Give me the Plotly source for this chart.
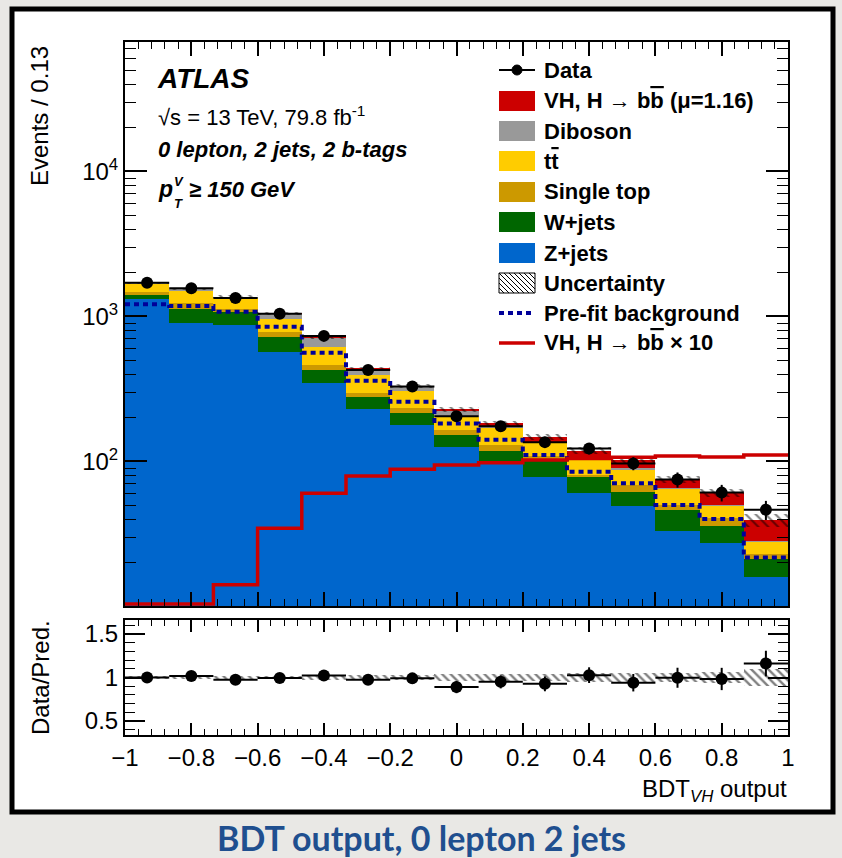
import numpy as np
import plotly.graph_objects as go

# ---------------- data ----------------
bin_edges = np.linspace(-1.0, 1.0, 16)          # 15 bins of width 0.133

z_jets     = [1314, 898, 874, 566, 346, 229, 178, 126, 100, 78, 61, 49, 33, 27.5, 16]
w_jets     = [93, 223, 205, 153, 82, 51, 37, 26, 18, 23, 17, 13, 13, 8.4, 5.4]
single_top = [76, 112, 42, 67, 35, 18, 18, 13, 12, 8, 3, 7, 4, 4.7, 1.8]
ttbar      = [192, 278, 221, 175, 156, 97, 75, 39, 39, 25, 24, 19, 14.5, 9, 4.6]
diboson    = [26, 33, 26, 87, 93, 35, 17, 20, 7, 3, 3, 2, 1.5, 0.5, 0.5]
signal     = [1.2, 1.2, 1.6, 4, 7, 9, 7, 5, 7, 10, 11, 13, 9.3, 10.9, 11.2]

data       = [1710, 1565, 1340, 1045, 735, 427, 329, 205, 175, 136, 123, 97, 75, 61, 46.5]
data_err   = [41, 40, 37, 32, 27, 21, 18, 14, 13, 12, 11, 10, 9, 8, 7]

prefit_bkg = [1214, 1182, 1079, 851, 563, 361, 258, 183, 141, 111, 85, 70.7, 50.1, 40.1, 21.8]
signal_x10 = [10.4, 10.4, 14.1, 34.6, 60.4, 79.4, 88.3, 94.6, 98.1, 102.4, 104.9, 106.9, 109, 107.4, 110.9]

rel_unc    = [0.02, 0.02, 0.02, 0.02, 0.025, 0.025, 0.03, 0.04, 0.04, 0.045, 0.05, 0.05, 0.055, 0.06, 0.1]

ratio      = [1.0, 1.017, 0.973, 0.993, 1.023, 0.973, 0.99, 0.89, 0.95, 0.927, 1.027, 0.94, 0.997, 0.983, 1.16]
ratio_err  = [0.025, 0.025, 0.028, 0.03, 0.037, 0.047, 0.055, 0.07, 0.075, 0.085, 0.09, 0.1, 0.115, 0.128, 0.147]

main_ticks = [100, 1000, 10000]
main_tick_text = ["10<sup>2</sup>", "10<sup>3</sup>", "10<sup>4</sup>"]
ratio_ticks = [0.5, 1, 1.5]
ratio_tick_text = ["0.5", "1", "1.5"]

BBAR = 'b<span style="text-decoration:overline">b</span>'
TTBAR = 't<span style="text-decoration:overline">t</span>'
legend_labels = ["Data", "VH, H \u2192 " + BBAR + " (\u03bc=1.16)", "Diboson", TTBAR, "Single top",
                 "W+jets", "Z+jets", "Uncertainty", "Pre-fit background", "VH, H \u2192 " + BBAR + " \u00d7 10"]

# ---------------- style ----------------
W, H = 842, 858
FONT = "Liberation Sans, Arial, Helvetica, sans-serif"
BG = "#E9E8E5"
C_Z, C_W, C_STOP, C_TT, C_VV, C_SIG = "#0066CC", "#006600", "#CC9900", "#FFCC00", "#999999", "#CC0000"
C_PRE = "#000099"


def X(p):
    return p / W


def Y(p):
    return 1 - p / H


centers = (bin_edges[:-1] + bin_edges[1:]) / 2
bw = bin_edges[1] - bin_edges[0]

layers = [(z_jets, C_Z), (w_jets, C_W), (single_top, C_STOP), (ttbar, C_TT), (diboson, C_VV), (signal, C_SIG)]
cum = np.cumsum([np.array(v, float) for v, _ in layers], axis=0)
total = cum[-1]
unc = np.array(rel_unc)

fig = go.Figure()

# stacked histogram (painter's order: tallest first)
for i in reversed(range(len(layers))):
    fig.add_trace(go.Bar(x=centers, y=cum[i], width=bw, xaxis="x", yaxis="y",
                         marker=dict(color=layers[i][1], line=dict(width=0)),
                         hoverinfo="skip", showlegend=False))

# uncertainty hatch on main panel
fig.add_trace(go.Bar(x=centers, y=total * 2 * unc, base=total * (1 - unc), width=bw,
                     xaxis="x", yaxis="y",
                     marker=dict(color="rgba(0,0,0,0)", line=dict(width=0),
                                 pattern=dict(shape="\\", fgcolor="black", bgcolor="rgba(0,0,0,0)",
                                              size=7, solidity=0.3, fillmode="overlay")),
                     hoverinfo="skip", showlegend=False))

# step lines
step_x = bin_edges
fig.add_trace(go.Scatter(x=step_x, y=list(prefit_bkg) + [prefit_bkg[-1]], mode="lines",
                         line=dict(shape="hv", color=C_PRE, width=4, dash="5px,4px"),
                         xaxis="x", yaxis="y", hoverinfo="skip", showlegend=False))
fig.add_trace(go.Scatter(x=step_x, y=list(signal_x10) + [signal_x10[-1]], mode="lines",
                         line=dict(shape="hv", color=C_SIG, width=3.5),
                         xaxis="x", yaxis="y", hoverinfo="skip", showlegend=False))

# data
fig.add_trace(go.Scatter(x=centers, y=data, mode="markers", xaxis="x", yaxis="y",
                         marker=dict(color="black", size=12),
                         error_x=dict(type="constant", value=bw / 2, color="black", thickness=2, width=0),
                         error_y=dict(type="data", array=data_err, color="black", thickness=2, width=0),
                         hoverinfo="skip", showlegend=False))

# ratio panel
fig.add_trace(go.Bar(x=centers, y=2 * unc, base=1 - unc, width=bw, xaxis="x2", yaxis="y2",
                     marker=dict(color="rgba(0,0,0,0)", line=dict(width=0),
                                 pattern=dict(shape="\\", fgcolor="black", bgcolor="rgba(0,0,0,0)",
                                              size=6, solidity=0.4, fillmode="overlay")),
                     hoverinfo="skip", showlegend=False))
fig.add_trace(go.Scatter(x=centers, y=ratio, mode="markers", xaxis="x2", yaxis="y2",
                         marker=dict(color="black", size=12),
                         error_x=dict(type="constant", value=bw / 2, color="black", thickness=2, width=0),
                         error_y=dict(type="data", array=ratio_err, color="black", thickness=2, width=0),
                         hoverinfo="skip", showlegend=False))

minor_log = [k * 10 ** e for e in (1, 2, 3, 4) for k in range(2, 10)]

common_axis = dict(showline=True, linecolor="black", linewidth=2, mirror="ticks",
                   ticks="inside", tickcolor="black", tickwidth=1.5, showgrid=False,
                   zeroline=False, automargin=False,
                   tickfont=dict(family=FONT, size=24, color="black"))

fig.update_layout(
    width=W, height=H, margin=dict(l=0, r=0, t=0, b=0),
    paper_bgcolor=BG, plot_bgcolor="white",
    barmode="overlay", bargap=0, showlegend=False,
    xaxis=dict(domain=[X(125), X(788)], range=[-1, 1], anchor="y", showticklabels=False,
               ticklen=14, tick0=-1, dtick=0.2,
               minor=dict(ticks="inside", ticklen=7, tickwidth=1.2, tickcolor="black", tick0=-1, dtick=0.04),
               **common_axis),
    yaxis=dict(domain=[Y(606), Y(42)], type="log", range=[1.0034, 4.893], anchor="x",
               tickmode="array", tickvals=main_ticks, ticktext=main_tick_text, ticklen=22,
               minor=dict(ticks="inside", ticklen=11, tickwidth=1.2, tickcolor="black",
                          tickmode="array", tickvals=minor_log),
               **common_axis),
    xaxis2=dict(domain=[X(125), X(788)], range=[-1, 1], anchor="y2",
                ticklen=12, tick0=-1, dtick=0.2,
                minor=dict(ticks="inside", ticklen=6, tickwidth=1.2, tickcolor="black", tick0=-1, dtick=0.04),
                **common_axis),
    yaxis2=dict(domain=[Y(735), Y(620)], range=[0.34, 1.66], anchor="x2",
                tickmode="array", tickvals=ratio_ticks, ticktext=ratio_tick_text, ticklen=20,
                minor=dict(ticks="inside", ticklen=10, tickwidth=1.2, tickcolor="black", tick0=0, dtick=0.1),
                **common_axis),
)

shapes = []
annotations = []

# outer framed white card
shapes.append(dict(type="rect", xref="paper", yref="paper", x0=X(12), x1=X(833), y0=Y(812), y1=Y(9),
                   line=dict(color="black", width=5), fillcolor="white", layer="below"))


def ann(text, x, y, size, xanchor="left", yanchor="middle", color="black", angle=0, family=FONT):
    annotations.append(dict(text=text, x=X(x), y=Y(y), xref="paper", yref="paper",
                            xanchor=xanchor, yanchor=yanchor, showarrow=False, textangle=angle,
                            font=dict(size=size, color=color, family=family)))


# axis titles
ann("Events / 0.13", 40, 116, 24, xanchor="center", angle=-90)
ann("Data/Pred.", 40, 678, 24, xanchor="center", angle=-90)
ann("BDT<sub><i>VH</i></sub> output", 789, 790, 24, xanchor="right")

# ATLAS labels
ann("<b><i>ATLAS</i></b>", 155, 78, 28)
ann("\u221as = 13 TeV, 79.8 fb<sup>-1</sup>", 156, 116, 22)
ann("<b><i>0 lepton, 2 jets, 2 b-tags</i></b>", 156, 150, 22)
ann("<b><i>p</i></b>", 156, 189, 23)
ann("<b><i>V</i></b>", 172, 181, 13)
ann("<b><i>T</i></b>", 172, 204, 13)
ann("<b><i>\u2265 150 GeV</i></b>", 187, 189, 22)

# manual legend
rows = [70, 101, 131, 161, 192, 222, 253, 283, 313, 343]
lx0, lx1 = 499, 535
box_fill = [None, C_SIG, C_VV, C_TT, C_STOP, C_W, C_Z]
for i, lab in enumerate(legend_labels):
    ann("<b>" + lab + "</b>", 542, rows[i], 22)
    r = rows[i]
    if i == 0:
        shapes.append(dict(type="line", xref="paper", yref="paper", x0=X(lx0), x1=X(lx1), y0=Y(r), y1=Y(r),
                           line=dict(color="black", width=2)))
        shapes.append(dict(type="circle", xref="paper", yref="paper", x0=X(512), x1=X(522), y0=Y(r + 5), y1=Y(r - 5),
                           fillcolor="black", line=dict(color="black", width=1)))
    elif 1 <= i <= 6:
        shapes.append(dict(type="rect", xref="paper", yref="paper", x0=X(lx0), x1=X(lx1), y0=Y(r + 10), y1=Y(r - 10),
                           fillcolor=box_fill[i], line=dict(width=0)))
    elif i == 7:
        bx0, bx1, by0, by1 = lx0, lx1, r - 10, r + 10
        shapes.append(dict(type="rect", xref="paper", yref="paper", x0=X(bx0), x1=X(bx1), y0=Y(by1), y1=Y(by0),
                           fillcolor="white", line=dict(color="black", width=1)))
        d = bx0 - by1
        while d < bx1 - by0:
            xa = max(bx0, by0 + d)
            xb = min(bx1, by1 + d)
            if xb > xa:
                shapes.append(dict(type="line", xref="paper", yref="paper",
                                   x0=X(xa), y0=Y(xa - d), x1=X(xb), y1=Y(xb - d),
                                   line=dict(color="black", width=1)))
            d += 5
    elif i == 8:
        shapes.append(dict(type="line", xref="paper", yref="paper", x0=X(lx0), x1=X(lx1), y0=Y(r), y1=Y(r),
                           line=dict(color=C_PRE, width=4, dash="5px,4px")))
    else:
        shapes.append(dict(type="line", xref="paper", yref="paper", x0=X(lx0), x1=X(lx1), y0=Y(r), y1=Y(r),
                           line=dict(color=C_SIG, width=3.5)))

# caption below the card
ann("<b>BDT output, 0 lepton 2 jets</b>", 421, 837, 34, xanchor="center", color="#1F4F8F",
    family="Lato, Open Sans, sans-serif")

fig.update_layout(shapes=shapes, annotations=annotations)
fig.write_html("out.html")
